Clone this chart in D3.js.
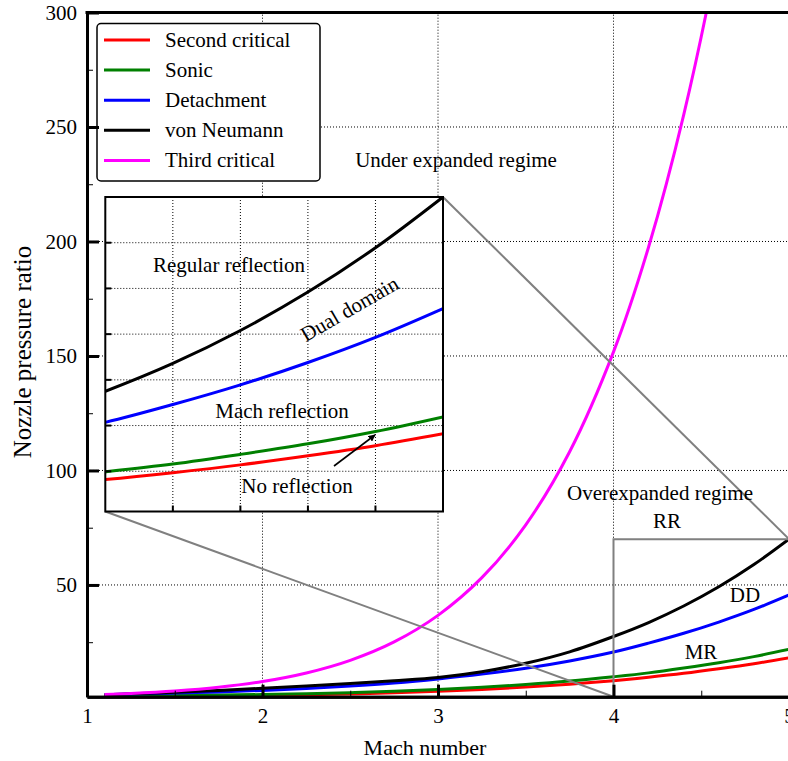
<!DOCTYPE html>
<html>
<head>
<meta charset="utf-8">
<script src="https://cdn.jsdelivr.net/npm/d3@7"></script>
<style>
  body { margin: 0; background: #fff; }
  svg { display: block; }
  text { font-family: "Liberation Serif", "Times New Roman", serif; fill: #000; }
</style>
</head>
<body>
<svg id="chart" width="788" height="761"></svg>
<script>
// Nozzle pressure ratio at the regime boundaries versus design Mach number
const machNumbers    = [1.1, 1.25, 1.5, 1.75, 2, 2.25, 2.5, 2.75, 3, 3.25, 3.5, 3.75, 4, 4.2, 4.4, 4.6, 4.8, 5];
const secondCritical = [1.72, 1.56, 1.49, 1.56, 1.74, 2.02, 2.40, 2.90, 3.56, 4.38, 5.40, 6.66, 8.2, 9.7, 11.4, 13.4, 15.6, 18.2];
const sonic          = [1.83, 1.78, 1.80, 1.92, 2.15, 2.48, 2.95, 3.55, 4.33, 5.30, 6.52, 8.01, 9.9, 11.6, 13.7, 16.0, 18.7, 21.9];
const detachment     = [2.0, 2.35, 2.8, 3.3, 3.95, 4.77, 5.87, 7.23, 8.98, 11.06, 13.6, 16.8, 20.7, 24.6, 28.9, 33.8, 39.3, 45.6];
const vonNeumann     = [2.1, 2.45, 3.1, 3.95, 4.9, 5.9, 7.0, 8.2, 9.6, 12.1, 15.8, 20.8, 27.5, 33.6, 40.8, 49.2, 58.9, 70.0];
const thirdCritical  = [2.14, 2.59, 3.67, 5.32, 7.82, 11.57, 17.09, 25.14, 36.73, 53.18, 76.27, 108.2, 151.8, 197.6, 255.3, 327.6, 417.9, 529.1];

const seriesNames  = ["Second critical", "Sonic", "Detachment", "von Neumann", "Third critical"];
const seriesValues = [secondCritical, sonic, detachment, vonNeumann, thirdCritical];
const seriesColors = ["#ff0000", "#008000", "#0000ff", "#000000", "#ff00ff"];

const xTicks = [1, 2, 3, 4, 5];
const xMinorTicks = [1.5, 2.5, 3.5, 4.5];
const yTicks = [50, 100, 150, 200, 250, 300];
const yMinorTicks = [25, 75, 125, 175, 225, 275];
const insetXTicks = [4.2, 4.4, 4.6, 4.8];
const insetYTicks = [10, 20, 30, 40, 50, 60];
const zoomWindow = { x0: 4, x1: 5, y1: 70 };

const svg = d3.select("#chart");
const FONT = 21;

// main axes
const x = d3.scaleLinear().domain([1, 5]).range([87, 789]);
const y = d3.scaleLinear().domain([1.2, 300]).range([696.7, 12.5]);

const series = seriesNames.map((name, i) => ({
  name, color: seriesColors[i],
  points: machNumbers.map((m, j) => [m, seriesValues[i][j]])
}));

svg.append("clipPath").attr("id", "plotClip")
  .append("rect").attr("x", x(1)).attr("y", y(300)).attr("width", x(5) - x(1)).attr("height", y(1.2) - y(300));

// dotted grid
const grid = svg.append("g").attr("stroke", "#000").attr("stroke-width", 1).attr("stroke-dasharray", "1,2");
grid.selectAll("line.h").data(yTicks.filter(v => v < 300)).join("line")
  .attr("x1", x(1)).attr("x2", x(5)).attr("y1", d => y(d)).attr("y2", d => y(d));
grid.selectAll("line.v").data(xTicks.filter(v => v > 1 && v < 5)).join("line")
  .attr("y1", y(1.2)).attr("y2", y(300)).attr("x1", d => x(d)).attr("x2", d => x(d));

// curves
const curve = d3.curveCatmullRom.alpha(0.5);
const line = d3.line().x(d => x(d[0])).y(d => y(d[1])).curve(curve);
svg.append("g").attr("clip-path", "url(#plotClip)")
  .selectAll("path").data(series).join("path")
  .attr("d", d => line(d.points))
  .attr("fill", "none").attr("stroke", d => d.color).attr("stroke-width", 3);

// zoom window rectangle
const gray = "#808080";
svg.append("path")
  .attr("d", `M${x(zoomWindow.x0)},${y(1.2)}V${y(zoomWindow.y1)}H${x(zoomWindow.x1)}`)
  .attr("fill", "none").attr("stroke", gray).attr("stroke-width", 2);

// inset axes
const inset = { left: 105.3, right: 443, top: 197, bottom: 511.5 };
const xi = d3.scaleLinear().domain([zoomWindow.x0, zoomWindow.x1]).range([inset.left, inset.right]);
const yi = d3.scaleLinear().domain([1.2, zoomWindow.y1]).range([inset.bottom, inset.top]);

// connectors from the inset corners to the zoom window
svg.append("line").attr("x1", inset.right).attr("y1", inset.top)
  .attr("x2", x(zoomWindow.x1)).attr("y2", y(zoomWindow.y1))
  .attr("stroke", gray).attr("stroke-width", 2);
svg.append("line").attr("x1", inset.left).attr("y1", inset.bottom)
  .attr("x2", x(zoomWindow.x0)).attr("y2", y(1.2))
  .attr("stroke", gray).attr("stroke-width", 2);

// region labels on the main plot
const label = (g, txt, cx, by) =>
  g.append("text").attr("x", cx).attr("y", by).attr("text-anchor", "middle")
    .attr("font-size", FONT).text(txt);
label(svg, "Under expanded regime", 456, 167);
label(svg, "Overexpanded regime", 660, 500);
label(svg, "RR", 667, 528);
label(svg, "DD", 745, 602);
label(svg, "MR", 701, 659);

// inset panel
const ig = svg.append("g");
ig.append("rect").attr("x", inset.left).attr("y", inset.top)
  .attr("width", inset.right - inset.left).attr("height", inset.bottom - inset.top).attr("fill", "#fff");
svg.append("clipPath").attr("id", "insetClip")
  .append("rect").attr("x", inset.left).attr("y", inset.top)
  .attr("width", inset.right - inset.left).attr("height", inset.bottom - inset.top);

const igrid = ig.append("g").attr("stroke", "#000").attr("stroke-width", 1).attr("stroke-dasharray", "1,2");
igrid.selectAll("line.h").data(insetYTicks).join("line")
  .attr("x1", inset.left).attr("x2", inset.right).attr("y1", d => yi(d)).attr("y2", d => yi(d));
igrid.selectAll("line.v").data(insetXTicks).join("line")
  .attr("y1", inset.top).attr("y2", inset.bottom).attr("x1", d => xi(d)).attr("x2", d => xi(d));

const iline = d3.line().x(d => xi(d[0])).y(d => yi(d[1])).curve(curve);
ig.append("g").attr("clip-path", "url(#insetClip)")
  .selectAll("path").data(series.filter(s => s.name !== "Third critical")).join("path")
  .attr("d", d => iline(d.points.filter(p => p[0] >= zoomWindow.x0 - 0.5)))
  .attr("fill", "none").attr("stroke", d => d.color).attr("stroke-width", 3);

// inset ticks pointing inward
ig.append("g").selectAll("line").data(insetYTicks).join("line")
  .attr("x1", inset.left).attr("x2", inset.left + 6).attr("y1", d => yi(d)).attr("y2", d => yi(d))
  .attr("stroke", "#000").attr("stroke-width", 2);
ig.append("g").selectAll("line").data(insetXTicks).join("line")
  .attr("y1", inset.bottom).attr("y2", inset.bottom - 6).attr("x1", d => xi(d)).attr("x2", d => xi(d))
  .attr("stroke", "#000").attr("stroke-width", 2);
ig.append("rect").attr("x", inset.left).attr("y", inset.top)
  .attr("width", inset.right - inset.left).attr("height", inset.bottom - inset.top)
  .attr("fill", "none").attr("stroke", "#000").attr("stroke-width", 2);

label(ig, "Regular reflection", 229, 272);
label(ig, "Mach reflection", 282, 418);
label(ig, "No reflection", 297, 493);
ig.append("text").attr("text-anchor", "middle").attr("font-size", FONT)
  .attr("transform", "translate(353,315) rotate(-30)").text("Dual domain");

// arrow pointing to the sonic line
svg.append("defs").append("marker").attr("id", "arrowHead")
  .attr("viewBox", "0 0 10 10").attr("refX", 9).attr("refY", 5)
  .attr("markerWidth", 7).attr("markerHeight", 7).attr("markerUnits", "userSpaceOnUse")
  .attr("orient", "auto")
  .append("path").attr("d", "M0,0L10,5L0,10Z").attr("fill", "#000");
ig.append("line").attr("x1", 334).attr("y1", 466).attr("x2", 375).attr("y2", 435)
  .attr("stroke", "#000").attr("stroke-width", 1.6).attr("marker-end", "url(#arrowHead)");

// legend
const lg = svg.append("g");
lg.append("rect").attr("x", 97).attr("y", 23.5).attr("width", 223).attr("height", 157.5)
  .attr("rx", 4).attr("fill", "#fff").attr("stroke", "#000").attr("stroke-width", 1.5);
const rows = lg.selectAll("g.row").data(series).join("g")
  .attr("transform", (d, i) => `translate(0,${40 + i * 30.1})`);
rows.append("line").attr("x1", 104).attr("x2", 150).attr("y1", 0).attr("y2", 0)
  .attr("stroke", d => d.color).attr("stroke-width", 3);
rows.append("text").attr("x", 165).attr("y", 7).attr("font-size", FONT).text(d => d.name);

// main axes drawn on top
const xAxis = svg.append("g").attr("transform", `translate(0,${y(1.2)})`)
  .call(d3.axisBottom(x).tickValues(xTicks).tickSize(-12).tickSizeOuter(0).tickPadding(11).tickFormat(d3.format("d")));
svg.append("g").attr("transform", `translate(0,${y(1.2)})`)
  .call(d3.axisBottom(x).tickValues(xMinorTicks).tickSize(-6).tickSizeOuter(0).tickFormat(""));
const yAxis = svg.append("g").attr("transform", `translate(${x(1)},0)`)
  .call(d3.axisLeft(y).tickValues(yTicks).tickSize(-12).tickSizeOuter(0).tickPadding(10));
svg.append("g").attr("transform", `translate(${x(1)},0)`)
  .call(d3.axisLeft(y).tickValues(yMinorTicks).tickSize(-6).tickSizeOuter(0).tickFormat(""));
svg.selectAll(".domain").attr("stroke-width", 3);
xAxis.selectAll(".tick line").attr("stroke-width", 3);
yAxis.selectAll(".tick line").attr("stroke-width", 3);
svg.selectAll(".tick text").attr("font-size", FONT).attr("font-family", "Liberation Serif, serif");
svg.append("line").attr("x1", x(1) - 1.5).attr("x2", 788).attr("y1", y(300)).attr("y2", y(300))
  .attr("stroke", "#000").attr("stroke-width", 3);

// axis titles
svg.append("text").attr("x", 425).attr("y", 755).attr("text-anchor", "middle")
  .attr("font-size", 22).text("Mach number");
svg.append("text").attr("text-anchor", "middle").attr("font-size", 25)
  .attr("transform", "translate(31,352) rotate(-90)").text("Nozzle pressure ratio");
</script>
</body>
</html>
